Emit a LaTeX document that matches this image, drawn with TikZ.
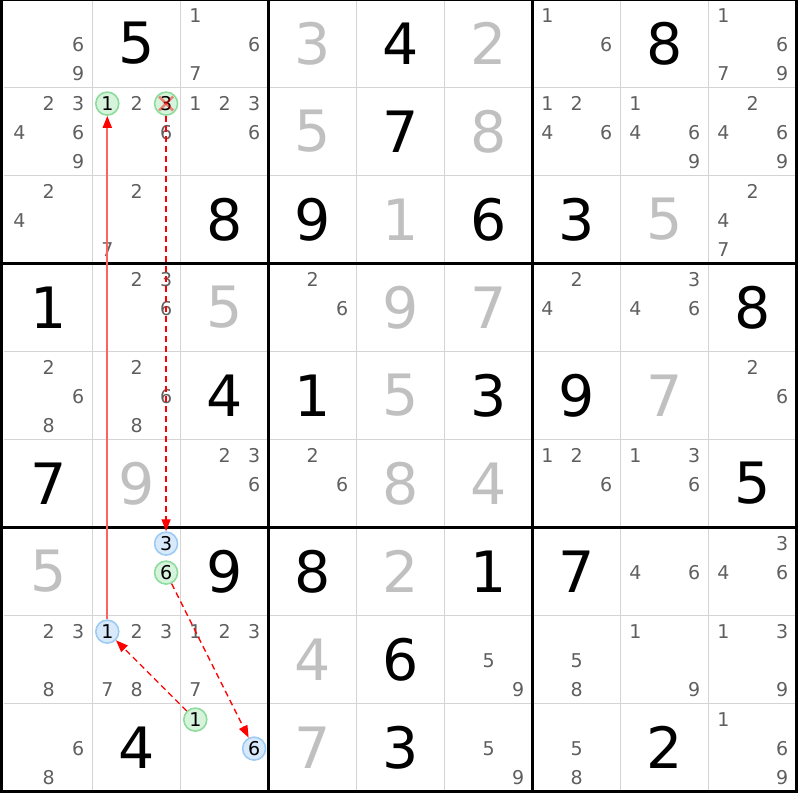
\documentclass[tikz,border=0pt]{standalone}
\usepackage{fontspec}
\setmainfont{DejaVu Sans}
\usepackage{xcolor}
\usepackage{tikz}
\usetikzlibrary{arrows.meta}
\definecolor{candgray}{HTML}{5F5F5F}
\definecolor{givengray}{HTML}{C0C0C0}
\definecolor{linegray}{HTML}{D4D4D4}
\definecolor{bluefill}{HTML}{D7E9FB}
\definecolor{bluering}{HTML}{9DCBF3}
\definecolor{greenfill}{HTML}{D6F3DB}
\definecolor{greenring}{HTML}{8EDC9D}
\definecolor{strongred}{RGB}{255,96,96}
\definecolor{weakred}{RGB}{255,0,0}

\begin{document}
\begin{tikzpicture}[x=1pt,y=-1pt,
 given/.style={text=givengray,font=\fontsize{57}{57}\selectfont,inner sep=0pt},
 solved/.style={text=black,font=\fontsize{57}{57}\selectfont,inner sep=0pt},
 cand/.style={text=candgray,font=\fontsize{19}{19}\selectfont,inner sep=0pt},
 bluemark/.style={circle,minimum size=23pt,inner sep=0pt,fill=bluefill,draw=bluering,line width=1.6pt,text=black,font=\fontsize{19}{19}\selectfont},
 greenmark/.style={bluemark,fill=greenfill,draw=greenring},
 crossout/.style={draw=weakred,draw opacity=0.45,line width=2.5pt},
 stronglink/.style={draw=strongred,line width=2pt,-{Triangle[length=12pt,width=9pt,color=weakred]}},
 weaklink/.style={draw=weakred,line width=1.3pt,dash pattern=on 6pt off 4pt,-{Triangle[length=12pt,width=9pt]}}]
 \path[use as bounding box] (0,0) rectangle (800,800);

\foreach \i in {1,2,4,5,7,8} {
	\draw[linegray,line width=1.5pt] ({4.3+88*\i},-0.4) -- ({4.3+88*\i},791.6);
	\draw[linegray,line width=1.5pt] (4.3,{-0.4+88*\i}) -- (796.3,{-0.4+88*\i});
}
\foreach \i in {3,6} {
	\draw[black,line width=3.3pt] ({4.3+88*\i},-0.4) -- ({4.3+88*\i},791.6);
	\draw[black,line width=3.3pt] (1.6,{-0.4+88*\i}) -- (796.3,{-0.4+88*\i});
}
\draw[black,line width=3.3pt] (1.6,-0.4) rectangle (796.3,791.6);

\foreach \r/\c/\d in {1/4/3, 1/6/2, 2/4/5, 2/6/8, 3/5/1, 3/8/5, 4/3/5, 4/5/9, 4/6/7,
	5/5/5, 5/8/7, 6/2/9, 6/5/8, 6/6/4, 7/1/5, 7/5/2, 8/4/4, 9/4/7}
	\node[given] (b\r\c) at ({48.3+88*(\c-1)},{43.6+88*(\r-1)}) {\d};

\foreach \r/\c/\d in {1/2/5, 1/5/4, 1/8/8, 2/5/7, 3/3/8, 3/4/9, 3/6/6, 3/7/3, 4/1/1, 4/9/8,
	5/3/4, 5/4/1, 5/6/3, 5/7/9, 6/1/7, 6/9/5, 7/3/9, 7/4/8, 7/6/1, 7/7/7, 8/5/6,
	9/2/4, 9/5/3, 9/8/2}
	\node[solved] (b\r\c) at ({48.3+88*(\c-1)},{43.6+88*(\r-1)}) {\d};

\foreach \r/\c/\ds in {1/1/{6,9}, 1/3/{1,6,7}, 1/7/{1,6}, 1/9/{1,6,7,9},
	2/1/{2,3,4,6,9}, 2/2/{2,6}, 2/3/{1,2,3,6}, 2/7/{1,2,4,6}, 2/8/{1,4,6,9}, 2/9/{2,4,6,9},
	3/1/{2,4}, 3/2/{2,7}, 3/9/{2,4,7},
	4/2/{2,3,6}, 4/4/{2,6}, 4/7/{2,4}, 4/8/{3,4,6},
	5/1/{2,6,8}, 5/2/{2,6,8}, 5/9/{2,6},
	6/3/{2,3,6}, 6/4/{2,6}, 6/7/{1,2,6}, 6/8/{1,3,6},
	7/8/{4,6}, 7/9/{3,4,6},
	8/1/{2,3,8}, 8/2/{2,3,7,8}, 8/3/{1,2,3,7}, 8/6/{5,9}, 8/7/{5,8}, 8/8/{1,9}, 8/9/{1,3,9},
	9/1/{6,8}, 9/6/{5,9}, 9/7/{5,8}, 9/9/{1,6,9}}
	\foreach \d in \ds
		\node[cand] (p\r\c\d) at ({19.3+88*(\c-1)+29.4*mod(\d-1,3)},{15.6+88*(\r-1)+29*div(\d-1,3)}) {\d};

\foreach \r/\c/\d/\m in {2/2/1/greenmark, 2/2/3/greenmark, 7/2/3/bluemark, 7/2/6/greenmark,
	8/2/1/bluemark, 9/3/1/greenmark, 9/3/6/bluemark}
	\node[\m] (p\r\c\d) at ({19.3+88*(\c-1)+29.4*mod(\d-1,3)},{15.6+88*(\r-1)+29*div(\d-1,3)}) {\d};

\draw[crossout] (p223) ++(-7,-7) -- ++(14,14);
\draw[crossout] (p223) ++(-7,7) -- ++(14,-14);

\draw[weaklink] (p223) -- (p723);
\draw[weaklink] (p726) -- (p936);
\draw[weaklink] (p931) -- (p821);
\draw[stronglink] (p821) -- (p221);

\end{tikzpicture}
\end{document}
